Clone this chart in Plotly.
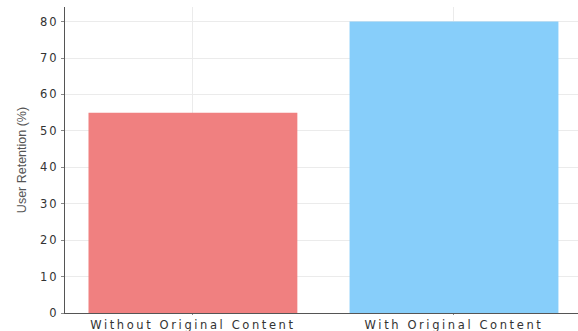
import plotly.graph_objects as go

categories = ["Without Original Content", "With Original Content"]
retention = [55, 80]
colors = ["#F08080", "#87CEFA"]
y_ticks = [0, 10, 20, 30, 40, 50, 60, 70, 80]

def wide(s, sp):
    return '<span style="letter-spacing:%spx">%s</span>' % (sp, s)

fig = go.Figure(go.Bar(
    x=[0, 1], y=retention, width=0.8,
    marker=dict(color=colors, line=dict(width=0)),
))

fig.update_layout(
    width=578, height=331,
    margin=dict(l=65, r=0, t=7, b=18),
    plot_bgcolor="white", paper_bgcolor="white",
    showlegend=False,
    bargap=0.2,
    font=dict(family="DejaVu Sans", color="#333333"),
)
fig.update_xaxes(
    range=[-0.49, 1.475], automargin=False,
    tickmode="array", tickvals=[0, 1], ticktext=[wide(c, 2.6) for c in categories],
    tickfont=dict(size=11.5, color="#333333"),
    showgrid=True, gridcolor="#ebebeb", gridwidth=1,
    showline=True, linecolor="#555555", linewidth=1.2,
    ticks="outside", ticklen=1, tickcolor="#888888",
    zeroline=False,
)
fig.update_yaxes(
    range=[0, 84], automargin=False,
    tickmode="array", tickvals=y_ticks, ticktext=[wide(str(v), 2) for v in y_ticks],
    tickfont=dict(size=11.5, color="#333333"),
    showgrid=True, gridcolor="#ebebeb", gridwidth=1,
    showline=True, linecolor="#555555", linewidth=1.2,
    ticks="outside", ticklen=3, tickcolor="#888888",
    zeroline=False,
    title=dict(text="User Retention (%)", font=dict(size=12.5, family="Liberation Sans", color="#555555"), standoff=10),
)

fig.write_html("out.html")
